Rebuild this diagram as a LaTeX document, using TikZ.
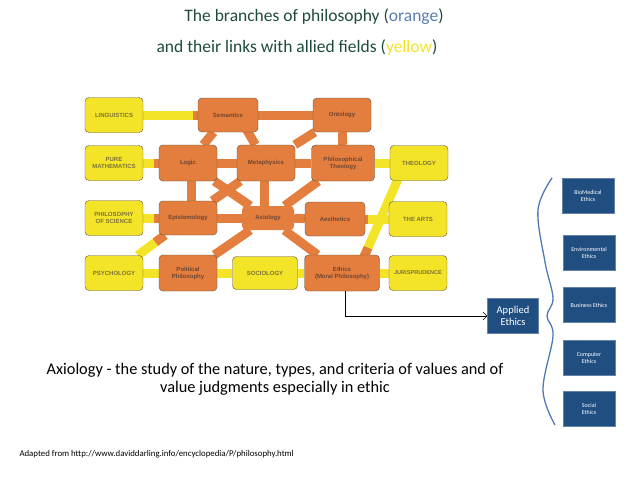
\documentclass[tikz,border=0pt]{standalone}
\usepackage{fontspec}
\setmainfont{Carlito}
\newfontfamily\boxfont{Liberation Sans}
\usetikzlibrary{arrows.meta, positioning, calc, backgrounds}

\definecolor{brorange}{RGB}{228,126,62}
\definecolor{bryellow}{RGB}{244,228,40}
\definecolor{brline}{RGB}{95,80,60}
\definecolor{brtext}{RGB}{110,70,50}
\definecolor{fieldtext}{RGB}{125,115,55}
\definecolor{ethblue}{RGB}{33,78,128}
\definecolor{bracecol}{RGB}{80,120,180}
\definecolor{titlecol}{RGB}{30,75,62}
\definecolor{orangeword}{RGB}{90,125,175}

\begin{document}
\begin{tikzpicture}[x=1pt, y=-1pt,
  branch/.style={draw=brline, fill=brorange, rounded corners=4pt,
                 minimum width=58pt, minimum height=36pt, inner sep=0.5pt,
                 align=center, text=brtext,
                 font=\boxfont\bfseries\fontsize{6}{7}\selectfont},
  field/.style={branch, fill=bryellow, text=fieldtext, minimum height=35pt},
  hub/.style={fill=brorange, rounded corners=4pt, minimum width=52pt,
              minimum height=24pt, text=brtext,
              font=\boxfont\bfseries\fontsize{6}{7}\selectfont},
  oband/.style={line width=9pt, brorange},
  yband/.style={line width=9pt, bryellow},
  ethbox/.style={fill=ethblue, draw=ethblue!70, minimum width=52pt,
                 minimum height=35pt, align=center, text=white,
                 font=\fontsize{6}{7.5}\selectfont},
  arr/.style={-{Straight Barb[length=4pt]}, thin}
]
  \useasboundingbox (0,0) rectangle (638,479);

  % titles
  \node[text=titlecol, font=\fontsize{17.5}{20}\selectfont] (title) at (314,17)
    {The branches of philosophy (\textcolor{orangeword}{orange})};
  \node[text=titlecol, font=\fontsize{17.5}{20}\selectfont] (subtitle) at (297,48)
    {and their links with allied fields (\textcolor{bryellow}{yellow})};

  % allied fields
  \node[field] (ling)  at (114,115) {LINGUISTICS};
  \node[field] (math)  at (114,163) {PURE\\MATHEMATICS};
  \node[field] (sci)   at (114,218) {PHILOSOPHY\\OF SCIENCE};
  \node[field] (psych) at (114,273) {PSYCHOLOGY};
  \node[field] (theo)  at (419,163) {THEOLOGY};
  \node[field] (arts)  at (418,219) {THE ARTS};
  \node[field, minimum width=65pt, minimum height=33pt] (socio) at (265,273) {SOCIOLOGY};
  \node[field, font=\boxfont\bfseries\fontsize{5.6}{7}\selectfont] (juris) at (418,273) {JURISPRUDENCE};

  % branches
  \node[branch, minimum width=60pt, minimum height=34pt] (sem) at (228,115) {Semantics};
  \node[branch, minimum height=34pt] (onto) at (342,115) {Ontology};
  \node[branch] (logic) at (188,163) {Logic};
  \node[branch] (meta)  at (266,163) {Metaphysics};
  \node[branch, minimum width=63pt] (theol) at (343,163) {Philosophical\\Theology};
  \node[branch, minimum height=34pt] (epist) at (188,218) {Epistemology};
  \node[hub] (axio) at (268,218) {Axiology};
  \node[branch, minimum width=60pt, minimum height=34pt] (aesth) at (335,219) {Aesthetics};
  \node[branch] (polit) at (188,273) {Political\\Philosophy};
  \node[branch, minimum width=75pt] (ethics) at (342,273) {Ethics\\(Moral Philosophy)};

  \begin{scope}[on background layer]
    \draw[oband] (sem) -- (onto);
    \draw[oband] (sem) -- (logic);
    \draw[oband] ([xshift=10pt]sem.center) -- (meta);
    \draw[oband] (onto) -- (meta);
    \draw[oband] (onto) -- (theol);
    \draw[oband] (logic) -- (meta);
    \draw[oband] (meta) -- (theol);
    \draw[oband] ([xshift=3pt]logic.center) -- ([xshift=3pt]epist.center);
    \draw[oband] (logic) -- (axio);
    \draw[oband] (meta) -- (epist);
    \draw[oband] ([xshift=-2pt]meta.center) -- ([xshift=-4pt]axio.center);
    \draw[oband] (theol) -- (axio);
    \draw[oband] (epist) -- (axio);
    \draw[oband] (axio) -- (aesth);
    \draw[oband] (axio) -- (polit);
    \draw[oband] (axio) -- (ethics);
    % links to allied fields
    \draw[yband] (ling) -- (sem);
    \draw[yband] (math) -- (logic);
    \draw[yband] (sci) -- (epist);
    \draw[yband] (psych) -- (epist);
    \draw[yband] (psych) -- (polit);
    \draw[yband] (polit) -- (socio);
    \draw[yband] (socio) -- (ethics);
    \draw[yband] (ethics) -- (juris);
    \draw[yband] (theol) -- (theo);
    \draw[yband] (aesth) -- (arts);
    \draw[yband] ([xshift=-14pt]theo.center) -- ([xshift=15pt]ethics.center);
    % orange ends next to the branches
    \draw[oband] (sem) -- ([xshift=-5pt]sem.west);
    \draw[oband] (logic) -- ([xshift=-5pt]logic.west);
    \draw[oband] (epist) -- ([xshift=-5pt]epist.west);
    \draw[oband] (epist) -- ($(epist)!0.44!(psych)$);
    \draw[oband] ([xshift=15pt]ethics.center)
      -- ($([xshift=15pt]ethics.center)!0.23!([xshift=-14pt]theo.center)$);
    \draw[oband] (aesth) -- ([xshift=3pt]aesth.east);
  \end{scope}

  % applied ethics
  \node[ethbox, minimum width=51pt, font=\fontsize{10.5}{12}\selectfont] (applied) at (513,316) {Applied\\Ethics};
  \draw[arr] ([xshift=3pt]ethics.south) |- (applied.west);

  \node[ethbox] (biomed)   at (588,196) {BioMedical\\Ethics};
  \node[ethbox] (environ)  at (589,253) {Environmental\\Ethics};
  \node[ethbox] (business) at (589,305) {Business Ethics};
  \node[ethbox] (computer) at (589,358) {Computer\\Ethics};
  \node[ethbox] (social)   at (589,409) {Social\\Ethics};

  % brace
  \draw[bracecol, line width=1.3pt] plot[smooth, tension=0.6] coordinates
    {(552,178) (538,210) (545,262) (553,298) (547,316) (553,336) (543,390) (555,425)};

  % captions
  \node[align=center, font=\fontsize{16.3}{18}\selectfont] (axiodef) at (275,379)
    {Axiology - the study of the nature, types, and criteria of values and of\\
     value judgments especially in ethic};
  \node[anchor=west, font=\fontsize{8.8}{10}\selectfont] (source) at (16,454)
    {Adapted from http://www.daviddarling.info/encyclopedia/P/philosophy.html};
\end{tikzpicture}
\end{document}
